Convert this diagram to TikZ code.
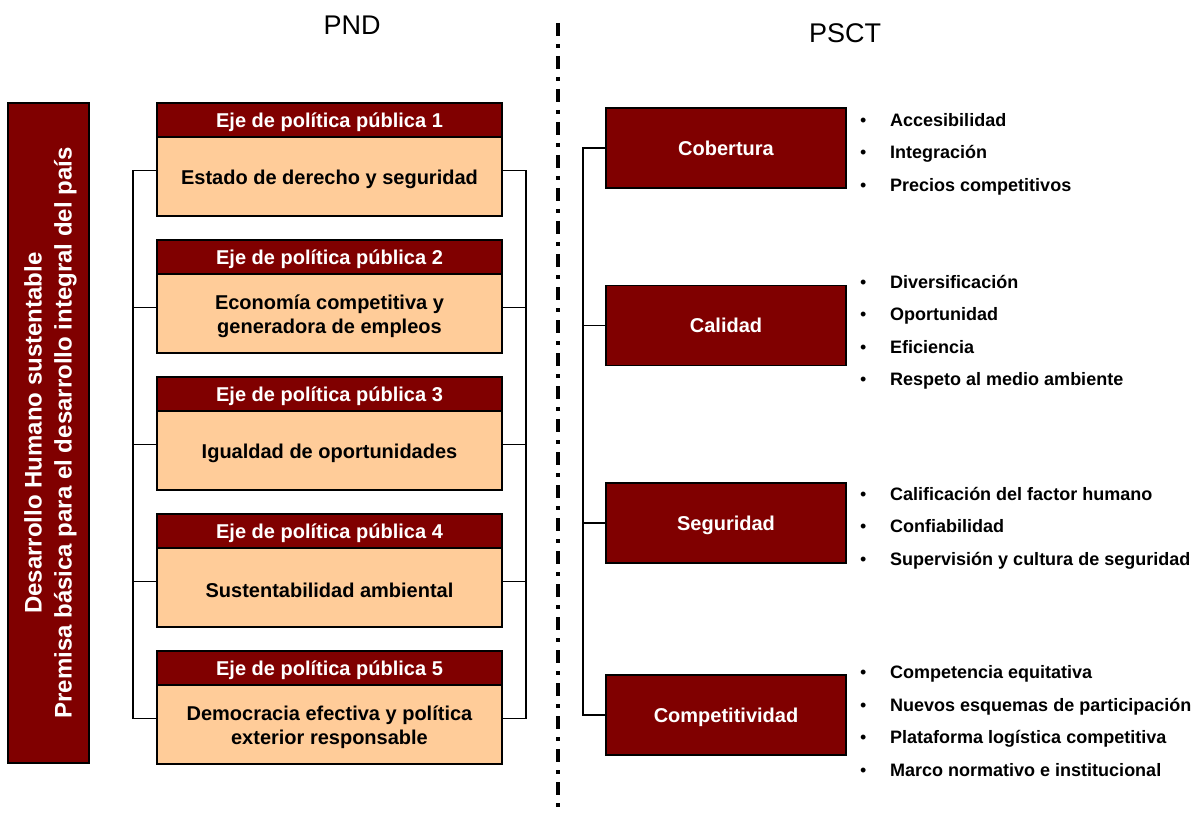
\documentclass[tikz,border=0pt]{standalone}
\usepackage{fontspec}
\setmainfont{Liberation Sans}
\usetikzlibrary{positioning}
\definecolor{vino}{RGB}{128,0,0}
\definecolor{durazno}{RGB}{255,204,153}

\begin{document}
\begin{tikzpicture}[x=1pt,y=-1pt,
  caja/.style={draw,line width=1.5pt,outer sep=0pt,inner sep=0pt},
  negrita/.style={font=\fontsize{20}{24}\selectfont\bfseries},
  eje/.style={caja,negrita,fill=vino,text=white,minimum width=345pt,minimum height=34pt,text depth=0pt},
  tema/.style={caja,fill=durazno,minimum width=345pt,minimum height=79pt},
  area/.style={caja,negrita,fill=vino,text=white,minimum width=240pt,minimum height=80pt,text depth=0pt},
  lista/.style={anchor=west,inner sep=0pt,align=left,font=\fontsize{18}{32.5}\selectfont\bfseries},
  linea/.style={line width=1.5pt},
  titulo/.style={font=\fontsize{27}{30}\selectfont}]
\useasboundingbox (0,0) rectangle (1201,818);

% titulos
\node[titulo] (pnd) at (352,25) {PND};
\node[titulo] (psct) at (845,33) {PSCT};

% separador
\draw[line width=4pt,dash pattern=on 13pt off 8pt on 4pt off 8pt] (558,23) -- (558,812);

% premisa
\node[caja,fill=vino,minimum width=81pt,minimum height=660pt] (premisa) at (48.5,433) {};
\node[rotate=90,text=white,align=center,font=\fontsize{24}{30}\selectfont\bfseries]
  (premisatxt) at ([xshift=2pt]premisa.center)
  {Desarrollo Humano sustentable\\Premisa básica para el desarrollo integral del país};

% ejes del PND
\foreach \n/\txt in {1/{Estado de derecho y seguridad},
                     2/{Economía competitiva y\\generadora de empleos},
                     3/{Igualdad de oportunidades},
                     4/{Sustentabilidad ambiental},
                     5/{Democracia efectiva y política\\exterior responsable}}{
  \node[eje] (e\n) at (329.5,{120+137*(\n-1)}) {Eje de política pública \n};
  \node[tema,below=0pt of e\n] (t\n) {};
  \node[negrita,align=center] (x\n) at ([yshift=-3pt]t\n.center) {\txt};
}

\draw[linea] ([yshift=6pt]t1.west) -- ++(-24,0) |- ([yshift=6pt]t5.west);
\draw[linea] ([yshift=6pt]t1.east) -- ++(24,0) |- ([yshift=6pt]t5.east);
\foreach \n in {2,3,4}{
  \draw[linea] ([yshift=6pt]t\n.west) -- ++(-24,0);
  \draw[linea] ([yshift=6pt]t\n.east) -- ++(24,0);
}

% areas del PSCT
\node[area] (cob) at (726,148) {Cobertura};
\node[area] (cal) at (726,325.5) {Calidad};
\node[area] (seg) at (726,523) {Seguridad};
\node[area] (comp) at (726,715) {Competitividad};

\draw[linea] (cob.west) -- ++(-23,0) |- (comp.west);
\draw[linea] (cal.west) -- ++(-23,0);
\draw[linea] (seg.west) -- ++(-23,0);

\newcommand{\punto}{\makebox[30pt][l]{\mdseries\textbullet}}
\node[lista] (lcob) at ([xshift=14pt,yshift=-6pt]cob.east)
  {\punto Accesibilidad\\\punto Integración\\\punto Precios competitivos};
\node[lista] (lcal) at ([xshift=14pt,yshift=-7pt]cal.east)
  {\punto Diversificación\\\punto Oportunidad\\\punto Eficiencia\\\punto Respeto al medio ambiente};
\node[lista] (lseg) at ([xshift=14pt,yshift=-5pt]seg.east)
  {\punto Calificación del factor humano\\\punto Confiabilidad\\\punto Supervisión y cultura de seguridad};
\node[lista] (lcomp) at ([xshift=14pt,yshift=-6pt]comp.east)
  {\punto Competencia equitativa\\\punto Nuevos esquemas de participación\\\punto Plataforma logística competitiva\\\punto Marco normativo e institucional};
\end{tikzpicture}
\end{document}
